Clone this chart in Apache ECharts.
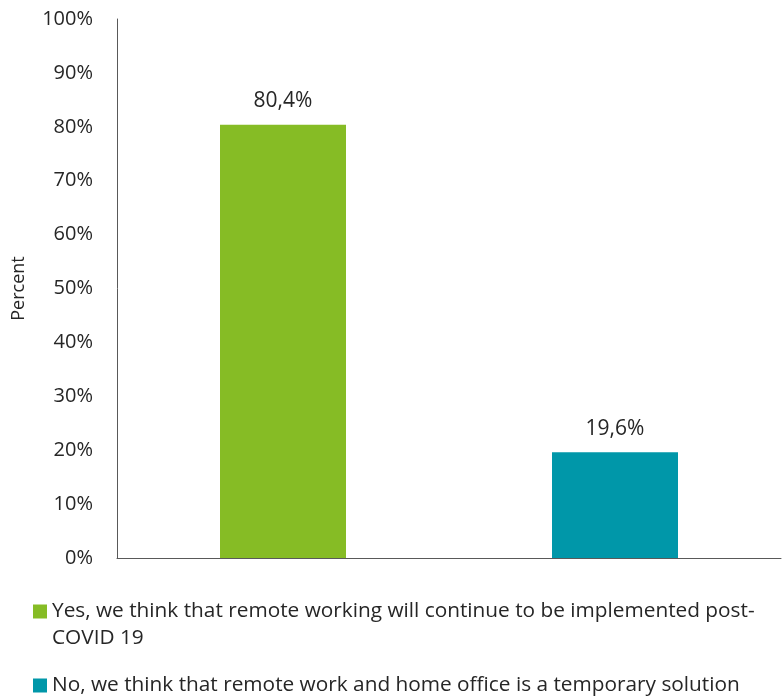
<!DOCTYPE html>
<html><head><meta charset="utf-8">
<script src="https://cdn.jsdelivr.net/npm/echarts@6/dist/echarts.min.js"></script>
<style>html,body{margin:0;padding:0;background:#fff}#c{width:784px;height:696px}</style>
</head><body><div id="c"></div>
<script>
const categories = ['Yes', 'No'];
const seriesNames = [
  'Yes, we think that remote working will continue to be implemented post-COVID 19',
  'No, we think that remote work and home office is a temporary solution'
];
const yesValues = [80.4, null];
const noValues = [null, 19.6];
const yTicks = [0, 10, 20, 30, 40, 50, 60, 70, 80, 90, 100];
const colors = ['#86BC25', '#0097A9'];

const FONT = '"Open Sans"';
const TXT = '#262626';
const chart = echarts.init(document.getElementById('c'));
const fmtLabel = p => p.value == null ? '' : p.value.toFixed(1).replace('.', ',') + '%';
chart.setOption({
  animation: false,
  grid: { left: 117, right: 3, top: 19, bottom: 138 },
  xAxis: {
    type: 'category', data: categories,
    axisLine: { lineStyle: { color: '#595959', width: 1 } },
    axisTick: { show: false }, axisLabel: { show: false }
  },
  yAxis: {
    type: 'value', min: yTicks[0], max: yTicks[yTicks.length - 1], interval: 10,
    name: 'Percent', nameLocation: 'middle', nameGap: 89,
    nameTextStyle: { fontFamily: FONT, fontSize: 18, color: TXT },
    axisLine: { show: true, lineStyle: { color: '#595959', width: 1 } },
    axisTick: { show: false }, splitLine: { show: false },
    axisLabel: { formatter: v => v + '%', fontFamily: FONT, fontSize: 20, color: TXT, margin: 24 }
  },
  legend: [
    {
      data: [seriesNames[0]], orient: 'vertical', left: 33, top: 571, padding: 0,
      icon: 'rect', itemWidth: 14, itemHeight: 14, itemGap: 0,
      formatter: n => '\n' + n.replace('post-COVID', 'post-\nCOVID'),
      textStyle: { fontFamily: FONT, fontSize: 20.8, color: TXT, lineHeight: 27 }
    },
    {
      data: [seriesNames[1]], orient: 'vertical', left: 33, top: 672, padding: 0,
      icon: 'rect', itemWidth: 14, itemHeight: 14,
      textStyle: { fontFamily: FONT, fontSize: 20.8, color: TXT, lineHeight: 27 }
    }
  ],
  series: [
    { name: seriesNames[0], type: 'bar', data: yesValues, barWidth: 126, barGap: '-100%',
      itemStyle: { color: colors[0] },
      label: { show: true, position: 'top', distance: 13, formatter: fmtLabel, fontFamily: FONT, fontSize: 21, color: TXT } },
    { name: seriesNames[1], type: 'bar', data: noValues, barWidth: 126, barGap: '-100%',
      itemStyle: { color: colors[1] },
      label: { show: true, position: 'top', distance: 13, formatter: fmtLabel, fontFamily: FONT, fontSize: 21, color: TXT } }
  ]
});
</script></body></html>
